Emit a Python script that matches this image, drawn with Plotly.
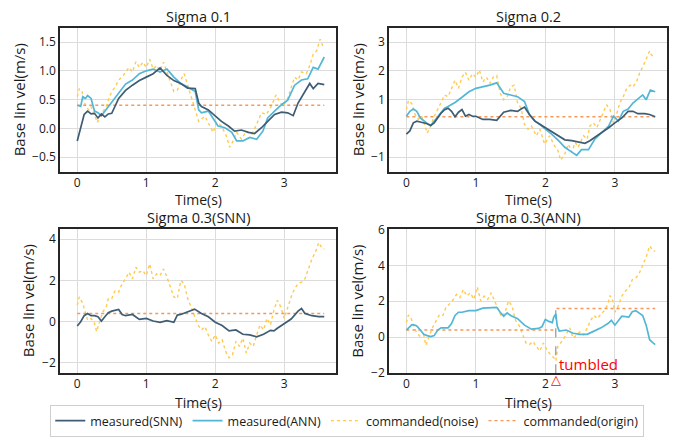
import plotly.graph_objects as go

# ---------------- data ----------------
# Sigma 0.1
t_snn1 = [0, 0.05, 0.1, 0.15, 0.2, 0.25, 0.3, 0.35, 0.4, 0.45, 0.5, 0.6, 0.7, 0.8, 0.9, 1.0, 1.1, 1.2, 1.3, 1.4,
          1.5, 1.6, 1.71, 1.76, 1.8, 1.9, 2.0, 2.09, 2.19, 2.28, 2.38, 2.48, 2.57, 2.67, 2.76, 2.86, 2.96, 3.05,
          3.13, 3.2, 3.3, 3.37, 3.42, 3.49, 3.58]
v_snn1 = [-0.22, 0.0, 0.24, 0.3, 0.25, 0.26, 0.18, 0.25, 0.2, 0.25, 0.26, 0.52, 0.66, 0.75, 0.83, 0.89, 0.95, 1.05,
          0.92, 0.83, 0.78, 0.7, 0.69, 0.44, 0.38, 0.32, 0.22, 0.12, 0.04, -0.05, -0.03, -0.07, -0.09, 0.01, 0.12,
          0.24, 0.28, 0.27, 0.22, 0.44, 0.64, 0.78, 0.69, 0.78, 0.76]
t_ann1 = [0, 0.05, 0.08, 0.12, 0.15, 0.2, 0.25, 0.3, 0.35, 0.4, 0.45, 0.5, 0.6, 0.7, 0.8, 0.9, 1.0, 1.1, 1.2, 1.3,
          1.4, 1.5, 1.6, 1.71, 1.76, 1.8, 1.9, 1.97, 2.04, 2.14, 2.24, 2.31, 2.4, 2.5, 2.6, 2.69, 2.76, 2.86, 2.96,
          3.05, 3.15, 3.25, 3.34, 3.42, 3.49, 3.58]
v_ann1 = [0.4, 0.38, 0.55, 0.52, 0.57, 0.52, 0.3, 0.27, 0.22, 0.3, 0.38, 0.47, 0.61, 0.77, 0.84, 0.95, 1.0, 1.03,
          0.98, 1.03, 0.89, 0.78, 0.72, 0.64, 0.32, 0.27, 0.3, 0.18, 0.04, 0.01, -0.07, -0.22, -0.22, -0.16, -0.19,
          -0.05, 0.18, 0.3, 0.41, 0.49, 0.75, 0.84, 0.86, 1.06, 1.03, 1.24]
t_noise1 = [0, 0.03, 0.07, 0.12, 0.17, 0.2, 0.25, 0.29, 0.33, 0.38, 0.42, 0.46, 0.5, 0.55, 0.6, 0.65, 0.7, 0.75,
            0.8, 0.85, 0.9, 0.95, 1.0, 1.05, 1.1, 1.15, 1.2, 1.25, 1.3, 1.35, 1.4, 1.45, 1.5, 1.55, 1.6, 1.65, 1.7,
            1.76, 1.85, 1.92, 1.97, 2.02, 2.09, 2.16, 2.21, 2.26, 2.31, 2.38, 2.45, 2.53, 2.6, 2.67, 2.74, 2.81,
            2.88, 2.93, 2.98, 3.05, 3.1, 3.15, 3.2, 3.25, 3.32, 3.37, 3.42, 3.47, 3.52, 3.56]
v_noise1 = [0.55, 0.69, 0.64, 0.38, 0.32, 0.38, 0.24, 0.1, 0.21, 0.3, 0.38, 0.52, 0.64, 0.72, 0.84, 0.89, 0.98,
            1.06, 0.98, 1.16, 1.06, 1.15, 1.06, 1.2, 1.03, 1.09, 1.0, 1.15, 0.98, 0.81, 0.64, 0.66, 0.84, 0.95,
            0.75, 0.52, 0.32, 0.12, 0.21, 0.04, -0.07, 0.1, 0.04, -0.13, -0.33, -0.22, -0.07, -0.19, -0.05, -0.1,
            0.07, 0.27, 0.24, 0.38, 0.58, 0.47, 0.38, 0.52, 0.72, 0.89, 0.84, 0.98, 0.95, 1.09, 1.29, 1.35, 1.55,
            1.43]

# Sigma 0.2
t_snn2 = [0, 0.05, 0.1, 0.15, 0.2, 0.25, 0.3, 0.35, 0.4, 0.45, 0.5, 0.55, 0.6, 0.65, 0.7, 0.75, 0.8, 0.85, 0.9,
          0.95, 1.0, 1.1, 1.2, 1.3, 1.4, 1.5, 1.6, 1.65, 1.7, 1.77, 1.85, 1.92, 2.0, 2.09, 2.19, 2.28, 2.38, 2.48,
          2.57, 2.64, 2.71, 2.81, 2.91, 3.0, 3.1, 3.19, 3.26, 3.33, 3.43, 3.5, 3.58]
v_snn2 = [-0.2, -0.09, 0.19, 0.25, 0.22, 0.19, 0.16, 0.1, 0.19, 0.36, 0.53, 0.65, 0.7, 0.59, 0.4, 0.56, 0.65, 0.42,
          0.48, 0.42, 0.42, 0.31, 0.31, 0.28, 0.56, 0.62, 0.59, 0.67, 0.74, 0.48, 0.25, 0.14, 0.02, -0.09, -0.26,
          -0.4, -0.43, -0.49, -0.52, -0.43, -0.32, -0.15, 0.02, 0.19, 0.36, 0.59, 0.59, 0.51, 0.51, 0.48, 0.4]
t_ann2 = [0, 0.05, 0.1, 0.15, 0.2, 0.25, 0.3, 0.35, 0.4, 0.45, 0.5, 0.55, 0.6, 0.7, 0.8, 0.9, 1.0, 1.1, 1.2, 1.3,
          1.4, 1.5, 1.6, 1.7, 1.77, 1.85, 1.92, 2.0, 2.09, 2.19, 2.28, 2.38, 2.45, 2.52, 2.62, 2.71, 2.81, 2.91,
          2.98, 3.05, 3.12, 3.19, 3.26, 3.33, 3.4, 3.45, 3.51, 3.58]
v_ann2 = [0.42, 0.59, 0.67, 0.59, 0.36, 0.25, 0.17, 0.1, 0.25, 0.4, 0.56, 0.7, 0.76, 0.9, 1.08, 1.27, 1.39, 1.44,
          1.5, 1.58, 1.22, 1.16, 1.1, 0.93, 0.48, 0.25, 0.14, -0.03, -0.2, -0.43, -0.66, -0.83, -0.94, -0.74,
          -0.74, -0.38, -0.15, 0.08, 0.42, 0.25, 0.59, 0.67, 0.88, 1.01, 1.16, 0.99, 1.33, 1.27]
t_noise2 = [0, 0.03, 0.08, 0.12, 0.17, 0.22, 0.27, 0.3, 0.35, 0.4, 0.45, 0.5, 0.55, 0.6, 0.65, 0.7, 0.75, 0.8,
            0.85, 0.9, 0.95, 1.0, 1.05, 1.1, 1.15, 1.2, 1.25, 1.3, 1.35, 1.4, 1.45, 1.5, 1.55, 1.6, 1.65, 1.7,
            1.75, 1.8, 1.87, 1.92, 1.99, 2.06, 2.13, 2.18, 2.22, 2.28, 2.33, 2.38, 2.43, 2.47, 2.55, 2.6, 2.64,
            2.69, 2.74, 2.79, 2.83, 2.88, 2.93, 2.98, 3.03, 3.07, 3.12, 3.17, 3.22, 3.26, 3.31, 3.36, 3.4, 3.45,
            3.5, 3.52, 3.56]
v_noise2 = [0.65, 0.97, 0.85, 0.51, 0.31, 0.42, 0.08, -0.17, 0.08, 0.42, 0.65, 0.88, 1.16, 1.1, 1.39, 1.67, 1.39,
            1.78, 1.95, 1.67, 1.9, 1.78, 2.03, 1.61, 1.78, 1.56, 1.78, 1.84, 1.22, 0.99, 1.1, 1.44, 1.5, 0.88, 0.7,
            0.14, -0.03, 0.08, -0.26, -0.03, -0.55, -0.26, -0.6, -0.77, -1.11, -0.89, -0.55, -0.83, -0.49, -0.66,
            -0.26, -0.38, 0.08, 0.19, 0.02, 0.31, 0.48, 0.82, 0.65, 0.19, 0.53, 0.88, 1.1, 1.39, 1.5, 1.44, 1.61,
            1.95, 2.13, 2.41, 2.69, 2.58, 2.47]

# Sigma 0.3 (SNN)
t_snn3 = [0, 0.05, 0.1, 0.15, 0.2, 0.25, 0.3, 0.35, 0.4, 0.45, 0.5, 0.55, 0.6, 0.65, 0.7, 0.8, 0.9, 1.0, 1.1, 1.2,
          1.3, 1.4, 1.45, 1.5, 1.6, 1.7, 1.8, 1.9, 2.0, 2.1, 2.2, 2.3, 2.4, 2.5, 2.6, 2.7, 2.8, 2.85, 2.9, 3.0,
          3.1, 3.2, 3.25, 3.3, 3.4, 3.5, 3.58]
v_snn3 = [-0.21, 0.0, 0.29, 0.4, 0.29, 0.29, 0.24, 0.03, 0.24, 0.43, 0.51, 0.56, 0.59, 0.35, 0.29, 0.35, 0.11, 0.16,
          0.03, -0.03, 0.05, -0.03, 0.32, 0.35, 0.48, 0.61, 0.4, 0.24, -0.03, -0.19, -0.45, -0.4, -0.61, -0.64,
          -0.74, -0.61, -0.42, -0.45, -0.32, -0.08, 0.13, 0.51, 0.64, 0.4, 0.29, 0.24, 0.24]
t_noise3 = [0, 0.03, 0.08, 0.12, 0.15, 0.2, 0.25, 0.28, 0.32, 0.37, 0.42, 0.45, 0.5, 0.55, 0.6, 0.65, 0.7, 0.75,
            0.8, 0.85, 0.9, 0.95, 1.0, 1.05, 1.1, 1.15, 1.2, 1.25, 1.3, 1.35, 1.4, 1.45, 1.5, 1.55, 1.6, 1.65, 1.7,
            1.75, 1.8, 1.85, 1.9, 1.95, 2.0, 2.05, 2.1, 2.15, 2.2, 2.25, 2.3, 2.35, 2.4, 2.45, 2.5, 2.55, 2.6,
            2.65, 2.7, 2.75, 2.8, 2.85, 2.9, 2.95, 3.0, 3.05, 3.1, 3.15, 3.2, 3.25, 3.3, 3.35, 3.4, 3.45, 3.5,
            3.55, 3.58]
v_noise3 = [0.8, 1.2, 0.88, 0.4, 0.08, 0.16, -0.08, -0.48, -0.08, 0.48, 0.72, 1.12, 1.12, 1.52, 1.44, 1.84, 2.08,
            2.4, 2.08, 2.64, 2.4, 2.48, 2.24, 2.8, 2.08, 2.32, 2.24, 2.56, 2.16, 1.68, 1.2, 1.12, 2.0, 1.84, 1.12,
            0.72, 0.32, -0.16, -0.4, -0.24, -0.64, -0.96, -0.64, -1.04, -0.88, -1.44, -1.76, -1.6, -0.96, -1.2,
            -0.8, -1.52, -1.04, -1.2, -0.64, -0.16, -0.4, 0.16, -0.16, 0.56, 1.04, 0.72, 0.16, 0.72, 1.2, 1.6,
            1.84, 1.92, 2.08, 2.56, 3.04, 3.36, 3.84, 3.55, 3.52]

# Sigma 0.3 (ANN)
t_ann4 = [0, 0.05, 0.08, 0.12, 0.15, 0.2, 0.25, 0.3, 0.35, 0.4, 0.45, 0.5, 0.6, 0.65, 0.7, 0.75, 0.8, 0.9, 1.0,
          1.1, 1.2, 1.3, 1.35, 1.4, 1.45, 1.5, 1.6, 1.7, 1.8, 1.9, 1.95, 2.0, 2.05, 2.1, 2.12, 2.15, 2.17, 2.2,
          2.3, 2.4, 2.5, 2.6, 2.7, 2.8, 2.9, 2.95, 3.0, 3.05, 3.1, 3.2, 3.25, 3.3, 3.4, 3.45, 3.5, 3.55, 3.58]
v_ann4 = [0.4, 0.58, 0.7, 0.67, 0.63, 0.4, 0.16, 0.09, 0.04, 0.09, 0.4, 0.52, 0.52, 0.76, 1.21, 1.39, 1.39, 1.48,
          1.48, 1.62, 1.62, 1.66, 1.39, 1.17, 1.35, 1.21, 1.03, 0.67, 0.45, 0.49, 0.58, 0.99, 0.88, 0.81, 1.12,
          1.3, 0.63, 0.34, 0.4, 0.22, 0.16, 0.16, 0.34, 0.52, 0.76, 0.94, 0.67, 0.94, 1.17, 1.12, 1.42, 1.48,
          1.21, 0.67, -0.14, -0.32, -0.41]
t_noise4 = [0, 0.03, 0.07, 0.1, 0.15, 0.2, 0.25, 0.28, 0.32, 0.37, 0.42, 0.47, 0.52, 0.57, 0.62, 0.67, 0.72, 0.77,
            0.82, 0.87, 0.92, 0.97, 1.02, 1.07, 1.12, 1.17, 1.22, 1.27, 1.32, 1.37, 1.42, 1.47, 1.52, 1.57, 1.62,
            1.67, 1.72, 1.77, 1.82, 1.87, 1.92, 1.97, 2.02, 2.07, 2.12, 2.15, 2.18, 2.22, 2.27, 2.32, 2.35, 2.4,
            2.45, 2.5, 2.55, 2.6, 2.65, 2.7, 2.75, 2.8, 2.85, 2.9, 2.93, 2.97, 3.0, 3.05, 3.1, 3.15, 3.2, 3.25,
            3.3, 3.35, 3.4, 3.45, 3.5, 3.55, 3.58]
v_noise4 = [0.81, 1.24, 1.03, 0.67, 0.22, 0.04, 0.13, -0.45, -0.05, 0.49, 0.85, 1.21, 1.17, 1.66, 1.84, 2.07,
            2.38, 2.2, 2.65, 2.29, 2.47, 2.11, 2.79, 2.02, 2.29, 2.11, 2.47, 2.02, 1.57, 1.12, 1.39, 2.02, 1.75,
            0.94, 0.67, 0.13, -0.32, -0.41, -0.23, -0.5, -0.77, -0.32, -0.68, -0.95, -1.14, -1.32, -0.5, -0.32,
            -0.05, 0.31, 0.52, -0.05, 0.13, 0.31, 0.13, 0.49, 0.94, 1.21, 1.03, 1.3, 1.48, 1.84, 2.32, 2.02, 1.39,
            1.75, 2.29, 2.56, 2.74, 3.19, 3.28, 3.55, 4.0, 4.45, 5.08, 4.81, 4.77]

# commanded (origin)
t_origin = [0, 3.58]
v_origin = [0.4, 0.4]
t_origin4 = [0, 2.15, None, 2.16, 3.58]
v_origin4 = [0.4, 0.4, None, 1.6, 1.6]

# tumble event
tumble_t = 2.15
tumble_top = 1.6
tumble_label = "tumbled"
tumble_symbol = "△"

titles = ["Sigma 0.1", "Sigma 0.2", "Sigma 0.3(SNN)", "Sigma 0.3(ANN)"]
x_title = "Time(s)"
y_title = "Base lin vel(m/s)"
y_ranges = [[-0.76, 1.75], [-1.52, 3.5], [-2.5, 4.48], [-2.0, 6.0]]
y_dticks = [0.5, 1, 2, 2]
y_formats = [".1f", "d", "d", "d"]
x_ticks = [0, 1, 2, 3]

# ---------------- styles ----------------
C_SNN = "#3e5d75"
C_ANN = "#52b7d6"
C_NOISE = "#ffca4f"
C_ORIGIN = "#f5995a"
FONT = "Open Sans"
TXT = "#1a1a1a"
TICK_SIZE = 12

W, H = 673, 437
x_domains = [[60 / W, 336 / W], [389 / W, 667 / W]]
y_domains = [[1 - 174 / H, 1 - 28 / H], [1 - 377.5 / H, 1 - 232 / H]]
# pixel positions of axis-title centres (x-title y, y-title x)
xtitle_y = [201.5, 407.5]
ytitle_x = [[18.5, 357.5], [28, 357.5]]

fig = go.Figure()

legend_seen = set()


def add_line(idx, t, v, name, color, dash, width, rank):
    ax = "" if idx == 1 else str(idx)
    show = name not in legend_seen
    legend_seen.add(name)
    fig.add_trace(go.Scatter(
        x=t, y=v, mode="lines", name=name, legendgroup=name, showlegend=show, legendrank=rank,
        line=dict(color=color, dash=dash, width=width),
        xaxis="x" + ax, yaxis="y" + ax, hoverinfo="skip"))


# panel 1
add_line(1, t_noise1, v_noise1, "commanded(noise)", C_NOISE, "dot", 1.4, 3)
add_line(1, t_origin, v_origin, "commanded(origin)", C_ORIGIN, "dot", 1.4, 4)
add_line(1, t_ann1, v_ann1, "measured(ANN)", C_ANN, "solid", 1.7, 2)
add_line(1, t_snn1, v_snn1, "measured(SNN)", C_SNN, "solid", 1.7, 1)
# panel 2
add_line(2, t_noise2, v_noise2, "commanded(noise)", C_NOISE, "dot", 1.4, 3)
add_line(2, t_origin, v_origin, "commanded(origin)", C_ORIGIN, "dot", 1.4, 4)
add_line(2, t_ann2, v_ann2, "measured(ANN)", C_ANN, "solid", 1.7, 2)
add_line(2, t_snn2, v_snn2, "measured(SNN)", C_SNN, "solid", 1.7, 1)
# panel 3
add_line(3, t_noise3, v_noise3, "commanded(noise)", C_NOISE, "dot", 1.4, 3)
add_line(3, t_origin, v_origin, "commanded(origin)", C_ORIGIN, "dot", 1.4, 4)
add_line(3, t_snn3, v_snn3, "measured(SNN)", C_SNN, "solid", 1.7, 1)
# panel 4
add_line(4, t_noise4, v_noise4, "commanded(noise)", C_NOISE, "dot", 1.4, 3)
add_line(4, t_origin4, v_origin4, "commanded(origin)", C_ORIGIN, "dot", 1.4, 4)
fig.add_trace(go.Scatter(
    x=[tumble_t, tumble_t], y=[y_ranges[3][0], tumble_top], mode="lines", showlegend=False,
    line=dict(color="#8a8a8a", dash="dash", width=1.1), xaxis="x4", yaxis="y4", hoverinfo="skip"))
add_line(4, t_ann4, v_ann4, "measured(ANN)", C_ANN, "solid", 1.7, 2)

layout = dict(
    width=W, height=H,
    margin=dict(l=0, r=0, t=0, b=0),
    paper_bgcolor="white", plot_bgcolor="white",
    font=dict(family=FONT, color=TXT, size=12.5),
    showlegend=True,
    legend=dict(orientation="h", x=0.516, xanchor="center", y=1 - 426 / H, yanchor="middle",
                bordercolor="#cfcfcf", borderwidth=1, font=dict(size=12.5, family=FONT, color=TXT),
                itemwidth=30, bgcolor="white"),
    annotations=[],
)

for i in range(4):
    n = i + 1
    ax = "" if n == 1 else str(n)
    col = i % 2
    row = i // 2
    layout["xaxis" + ax] = dict(
        domain=x_domains[col], anchor="y" + ax, range=[-0.25, 3.75],
        tickvals=x_ticks, showgrid=True, gridcolor="#dcdcdc", gridwidth=1, zeroline=False,
        showline=True, linecolor="#262626", linewidth=1.6, mirror=True, ticks="", automargin=False,
        ticklabelstandoff=-1,
        tickfont=dict(size=TICK_SIZE, family=FONT, color=TXT))
    layout["yaxis" + ax] = dict(
        domain=y_domains[row], anchor="x" + ax, range=y_ranges[i], dtick=y_dticks[i], tick0=0,
        tickformat=y_formats[i], showgrid=True, gridcolor="#dcdcdc", gridwidth=1, zeroline=False,
        showline=True, linecolor="#262626", linewidth=1.6, mirror=True, ticks="", automargin=False,
        tickfont=dict(size=TICK_SIZE, family=FONT, color=TXT))
    xc = (x_domains[col][0] + x_domains[col][1]) / 2
    yc = (y_domains[row][0] + y_domains[row][1]) / 2
    layout["annotations"].append(dict(
        text=titles[i], xref="paper", yref="paper", x=xc, y=y_domains[row][1],
        xanchor="center", yanchor="bottom", yshift=1, showarrow=False, borderpad=0,
        font=dict(size=14.5, family=FONT, color=TXT)))
    layout["annotations"].append(dict(
        text=x_title, xref="paper", yref="paper", x=xc, y=1 - xtitle_y[row] / H,
        xanchor="center", yanchor="middle", showarrow=False, borderpad=0,
        font=dict(size=14, family=FONT, color=TXT)))
    layout["annotations"].append(dict(
        text=y_title, xref="paper", yref="paper", x=ytitle_x[row][col] / W, y=yc,
        xanchor="center", yanchor="middle", textangle=-90, showarrow=False, borderpad=0,
        font=dict(size=15, family=FONT, color=TXT)))

layout["annotations"].append(dict(
    text=tumble_label, xref="x4", yref="y4", x=tumble_t + 0.03, y=y_ranges[3][0],
    xanchor="left", yanchor="middle", yshift=9, showarrow=False, borderpad=0,
    font=dict(size=15, family=FONT, color="red")))
layout["annotations"].append(dict(
    text=tumble_symbol, xref="x4", yref="y4", x=tumble_t, y=y_ranges[3][0],
    xanchor="center", yanchor="middle", yshift=-6, showarrow=False, borderpad=0,
    font=dict(size=13, family="DejaVu Sans", color="red")))

fig.update_layout(**layout)
fig.write_html("out.html", config={"displayModeBar": False},
               post_script="document.body.style.margin='0px';")
